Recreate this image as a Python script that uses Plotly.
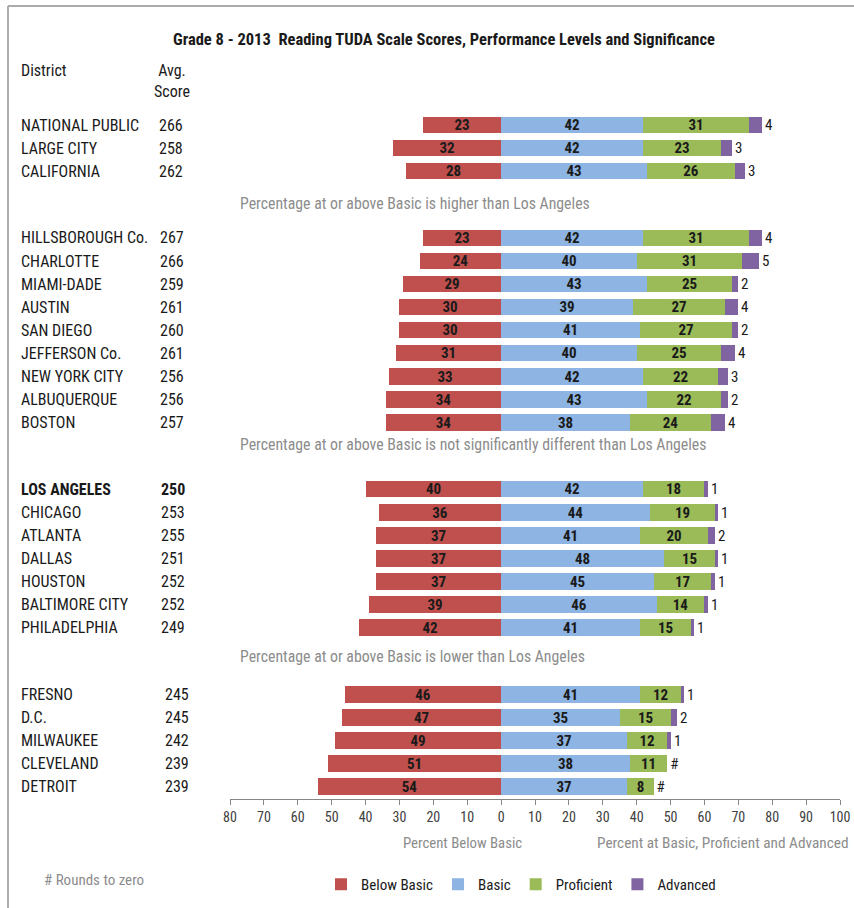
import plotly.graph_objects as go

districts = ["NATIONAL PUBLIC", "LARGE CITY", "CALIFORNIA",
             "HILLSBOROUGH Co.", "CHARLOTTE", "MIAMI-DADE", "AUSTIN", "SAN DIEGO",
             "JEFFERSON Co.", "NEW YORK CITY", "ALBUQUERQUE", "BOSTON",
             "LOS ANGELES", "CHICAGO", "ATLANTA", "DALLAS", "HOUSTON",
             "BALTIMORE CITY", "PHILADELPHIA",
             "FRESNO", "D.C.", "MILWAUKEE", "CLEVELAND", "DETROIT"]
scores = [266, 258, 262,
          267, 266, 259, 261, 260, 261, 256, 256, 257,
          250, 253, 255, 251, 252, 252, 249,
          245, 245, 242, 239, 239]
below_basic = [23, 32, 28,
               23, 24, 29, 30, 30, 31, 33, 34, 34,
               40, 36, 37, 37, 37, 39, 42,
               46, 47, 49, 51, 54]
basic = [42, 42, 43,
         42, 40, 43, 39, 41, 40, 42, 43, 38,
         42, 44, 41, 48, 45, 46, 41,
         41, 35, 37, 38, 37]
proficient = [31, 23, 26,
              31, 31, 25, 27, 27, 25, 22, 22, 24,
              18, 19, 20, 15, 17, 14, 15,
              12, 15, 12, 11, 8]
advanced = [4, 3, 3,
            4, 5, 2, 4, 2, 4, 3, 2, 4,
            1, 1, 2, 1, 1, 1, 1,
            1, 2, 1, 0, 0]
advanced_labels = ["4", "3", "3",
                   "4", "5", "2", "4", "2", "4", "3", "2", "4",
                   "1", "1", "2", "1", "1", "1", "1",
                   "1", "2", "1", "#", "#"]
group_sizes = [3, 9, 7, 5]
group_notes = ["Percentage at or above Basic is higher than Los Angeles",
               "Percentage at or above Basic is not significantly different than Los Angeles",
               "Percentage at or above Basic is lower than Los Angeles"]
tick_values = [-80, -70, -60, -50, -40, -30, -20, -10, 0, 10, 20, 30, 40, 50, 60, 70, 80, 90, 100]
tick_labels = ["80", "70", "60", "50", "40", "30", "20", "10", "0", "10", "20", "30",
               "40", "50", "60", "70", "80", "90", "100"]

# ---- layout helpers -------------------------------------------------------
GAP = 2.9           # distance (in rows) between last row of a group and first row of next
ypos, group_ends = [], []
cur = 0.0
for g in group_sizes:
    for i in range(g):
        ypos.append(cur + i)
    group_ends.append(cur + g - 1)
    cur = cur + g - 1 + GAP
note_offsets = [1.42, 0.97, 1.25]

FONT = "Liberation Sans Narrow, Roboto Condensed, Roboto, Arial"
RED, BLUE, GREEN, PURPLE = "#C0504D", "#8DB4E2", "#9BBB59", "#8064A2"
LABEL = dict(family=FONT, size=16, color="#1a1a1a")
GRAY = "#8c8c8c"

W, H = 854, 908
ML, MR, MT, MB = 230, 14, 100, 109
PX_PER_ROW = 23.05
y_top = -(125 - MT) / PX_PER_ROW
y_bot = (H - MB - 125) / PX_PER_ROW

def px2paperx(px):
    return (px - ML) / (W - ML - MR)

def px2papery(py):
    return (H - MB - py) / (H - MT - MB)

fig = go.Figure()
bar_w = 0.72
inside_font = dict(family=FONT, size=15, color="#1a1a1a", weight="bold")
for name, vals, color in [("Below Basic", below_basic, RED), ("Basic", basic, BLUE),
                          ("Proficient", proficient, GREEN)]:
    xs = [-v for v in vals] if name == "Below Basic" else vals
    fig.add_trace(go.Bar(name=name, y=ypos, x=xs, orientation="h",
                         marker=dict(color=color, line=dict(width=0)), width=bar_w,
                         text=[str(v) for v in vals], textposition="inside",
                         insidetextanchor="middle", textangle=0, constraintext="none",
                         textfont=inside_font, hoverinfo="skip"))
fig.add_trace(go.Bar(name="Advanced", y=ypos, x=advanced, orientation="h",
                     marker=dict(color=PURPLE, line=dict(width=0)), width=bar_w,
                     text=advanced_labels, textposition="outside", textangle=0,
                     constraintext="none", cliponaxis=False,
                     outsidetextfont=dict(family=FONT, size=15, color="#1a1a1a"),
                     hoverinfo="skip"))

ann = []
ann.append(dict(text="<b>Grade 8 - 2013  Reading TUDA Scale Scores, Performance Levels and Significance</b>",
                x=px2paperx(444), y=px2papery(39), xref="paper", yref="paper",
                xanchor="center", yanchor="middle", showarrow=False,
                font=dict(family=FONT, size=16.5, color="#1a1a1a")))
ann.append(dict(text="District", x=px2paperx(19), y=px2papery(70), xref="paper", yref="paper",
                xanchor="left", yanchor="middle", showarrow=False, font=LABEL))
ann.append(dict(text="Avg.<br>Score", x=px2paperx(172), y=px2papery(81), xref="paper", yref="paper",
                xanchor="center", yanchor="middle", showarrow=False, align="center", font=LABEL))
score_centers = [171, 172, 173, 177]
idx = 0
for gi, g in enumerate(group_sizes):
    for i in range(g):
        name = districts[idx]
        bold = name == "LOS ANGELES"
        ann.append(dict(text=f"<b>{name}</b>" if bold else name, x=px2paperx(19), y=ypos[idx],
                        xref="paper", yref="y", xanchor="left", yanchor="middle",
                        showarrow=False, font=LABEL))
        ann.append(dict(text=f"<b>{scores[idx]}</b>" if bold else str(scores[idx]),
                        x=px2paperx(score_centers[gi]), y=ypos[idx],
                        xref="paper", yref="y", xanchor="center", yanchor="middle",
                        showarrow=False, font=LABEL))
        idx += 1
for k, note in enumerate(group_notes):
    ann.append(dict(text=note, x=px2paperx(238), y=group_ends[k] + note_offsets[k],
                    xref="paper", yref="y", xanchor="left", yanchor="middle",
                    showarrow=False, font=dict(family=FONT, size=15.8, color=GRAY)))
ann.append(dict(text="Percent Below Basic", x=px2paperx(462), y=px2papery(843),
                xref="paper", yref="paper", xanchor="center", yanchor="middle",
                showarrow=False, font=dict(family=FONT, size=14.8, color=GRAY)))
ann.append(dict(text="Percent at Basic, Proficient and Advanced", x=px2paperx(722), y=px2papery(843),
                xref="paper", yref="paper", xanchor="center", yanchor="middle",
                showarrow=False, font=dict(family=FONT, size=15.3, color=GRAY)))
ann.append(dict(text="# Rounds to zero", x=px2paperx(42), y=px2papery(880),
                xref="paper", yref="paper", xanchor="left", yanchor="middle",
                showarrow=False, font=dict(family=FONT, size=15, color=GRAY)))

shapes = [
    dict(type="line", xref="paper", yref="paper", x0=px2paperx(8), x1=px2paperx(8),
         y0=px2papery(6), y1=px2papery(930), line=dict(color="#ababab", width=2)),
    dict(type="line", xref="paper", yref="paper", x0=px2paperx(8), x1=px2paperx(880),
         y0=px2papery(6), y1=px2papery(6), line=dict(color="#ababab", width=2)),
]

fig.update_layout(
    width=W, height=H, barmode="relative", bargap=0,
    margin=dict(l=ML, r=MR, t=MT, b=MB, autoexpand=False),
    paper_bgcolor="white", plot_bgcolor="white",
    font=dict(family=FONT, size=13, color="#1a1a1a"),
    annotations=ann, shapes=shapes,
    showlegend=True,
    legend=dict(orientation="h", x=px2paperx(321), y=px2papery(868), xanchor="left", yanchor="top",
                font=dict(family=FONT, size=15, color="#1a1a1a"), traceorder="normal",
                itemwidth=30, tracegroupgap=0, bgcolor="rgba(0,0,0,0)"),
)
fig.update_xaxes(range=[-80, 100], tickvals=tick_values, ticktext=tick_labels, automargin=False,
                 showgrid=False, zeroline=False, showline=True, linecolor="#868686", linewidth=1,
                 ticks="outside", ticklen=5, tickcolor="#868686",
                 tickfont=dict(family=FONT, size=14, color="#404040"), fixedrange=True)
fig.update_yaxes(range=[y_bot, y_top], showgrid=False, zeroline=False, showline=False, automargin=False,
                 showticklabels=False, ticks="", fixedrange=True)

fig.write_html("out.html", config={"displayModeBar": False},
               post_script="document.body.style.margin='0px';")
